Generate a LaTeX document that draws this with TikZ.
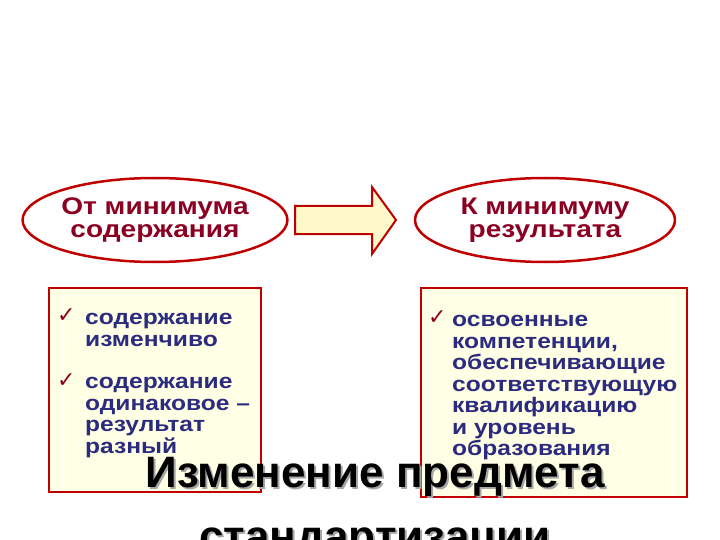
\documentclass[tikz,border=0pt]{standalone}
\usepackage{fontspec}
\setmainfont{Liberation Sans}
\newfontfamily\wide[FakeStretch=1.17]{Liberation Sans}
\newfontfamily\dv{DejaVu Sans}
\usetikzlibrary{shapes.geometric}
\definecolor{dred}{HTML}{C00000}
\definecolor{tred}{HTML}{8B0022}
\definecolor{tblue}{HTML}{2B2B7F}
\definecolor{pale}{HTML}{FFFFE5}
\definecolor{arfill}{HTML}{FFF8C8}
\tikzset{
 oval/.style={ellipse,draw=dred,line width=2.5pt,fill=white,minimum width=260pt,minimum height=84pt,inner sep=0pt,font=\wide\fontsize{24}{23}\selectfont\bfseries,text=tred,align=center},
 box/.style={draw=dred,line width=1.5pt,fill=pale},
 item/.style={anchor=north west,font=\wide\fontsize{21}{21.5}\selectfont\bfseries,text=tblue,align=left,inner sep=0pt},
 chk/.style={anchor=north west,font=\dv\fontsize{22}{22}\selectfont,text=tred,inner sep=0pt},
 ttl/.style={font=\fontsize{44}{64}\selectfont\bfseries,align=center,inner sep=0pt,anchor=north}
}
\begin{document}
\begin{tikzpicture}[x=1pt,y=-1pt]
\useasboundingbox[fill=white] (0,0) rectangle (720,540);
\node[oval] (l) at (155,220) {От минимума\\содержания};
\node[oval] (r) at (545,220) {К минимуму\\результата};
\draw[dred,line width=2pt,fill=arfill,line join=miter] (295,206)--(372,206)--(372,187)--(396,220)--(372,254)--(372,234)--(295,234)--cycle;
\node[box,minimum width=212pt,minimum height=204pt,anchor=north west] (lb) at (48,287) {};
\node[box,minimum width=266pt,minimum height=209pt,anchor=north west] (rb) at (420,287) {};
\node[chk] (c1) at (57,308) {✓};
\node[item] (t1) at (85,313) {содержание\\изменчиво};
\node[chk] (c2) at (57,373) {✓};
\node[item] (t2) at (85,377) {содержание\\одинаковое –\\результат\\разный};
\node[chk] (c3) at (428,310) {✓};
\node[item] (t3) at (452,315) {освоенные\\компетенции,\\обеспечивающие\\соответствующую\\квалификацию\\и уровень\\образования};
\node[ttl,text=gray!70] at (377,459) {Изменение предмета\\стандартизации};
\node[ttl] (title) at (375,457) {Изменение предмета\\стандартизации};
\end{tikzpicture}
\end{document}
